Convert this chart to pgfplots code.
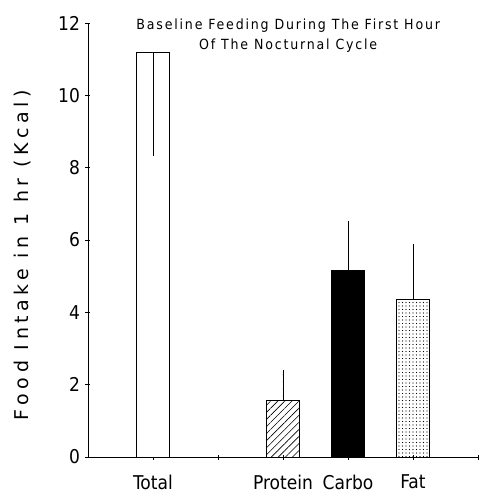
\documentclass[border=0pt]{standalone}
\usepackage{pgfplots}
\pgfplotsset{compat=1.18}
\usepackage{fontspec}
\setmainfont{DejaVu Sans Condensed}
\newfontfamily\labfont[LetterSpace=24]{DejaVu Sans}
\newfontfamily\titfont[LetterSpace=13]{DejaVu Sans Condensed}
\usetikzlibrary{patterns.meta}
\begin{document}
\begin{tikzpicture}
\begin{axis}[
    scale only axis,
    width=390pt, height=434pt,
    xmin=0, xmax=6,
    ymin=0, ymax=12,
    axis lines=left,
    axis line style={-, line width=0.8pt},
    xtick={1,2,3,4,5,6},
    xticklabels={Total,,Protein,Carbo,Fat,},
    ytick={0,2,4,6,8,10,12},
    tick align=center,
    major tick length=5pt,
    tick style={black, line width=0.7pt},
    ticklabel style={font=\fontsize{19}{19}\selectfont},
    xticklabel style={yshift=-12pt},
    yticklabel style={xshift=-2pt},
    ylabel={\labfont\fontsize{19}{19}\selectfont Food Intake in 1 hr (Kcal)},
    ylabel style={at={(axis description cs:-0.169,0.465)}, anchor=center},
    /pgf/number format/assume math mode=true,
    bar width=0.5,
    clip=false,
]
% Total (error bar drawn downward inside the bar)
\addplot[ybar, bar shift=0pt, draw=black, line width=0.8pt, fill=white,
    error bars/.cd, y dir=minus, y explicit, error mark=none,
    error bar style={line width=0.8pt}]
    coordinates {(1,11.19) -= (0,2.87)};
% Protein
\addplot[ybar, bar shift=0pt, draw=black, line width=0.8pt,
    pattern={Lines[angle=45,distance=5pt,line width=0.6pt]},
    error bars/.cd, y dir=plus, y explicit, error mark=none,
    error bar style={line width=0.8pt}]
    coordinates {(3,1.56) += (0,0.85)};
% Carbo
\addplot[ybar, bar shift=0pt, draw=black, line width=0.8pt, fill=black,
    error bars/.cd, y dir=plus, y explicit, error mark=none,
    error bar style={line width=0.8pt}]
    coordinates {(4,5.17) += (0,1.35)};
% Fat
\addplot[ybar, bar shift=0pt, draw=black, line width=0.8pt,
    pattern={Dots[distance=3.5pt,radius=0.6pt]},
    error bars/.cd, y dir=plus, y explicit, error mark=none,
    error bar style={line width=0.8pt}]
    coordinates {(5,4.36) += (0,1.52)};
\node[align=center, font=\titfont\fontsize{14}{20}\selectfont, anchor=north]
    at (axis cs:3.08,12.2) {Baseline Feeding During The First Hour\\Of The Nocturnal Cycle};
\end{axis}
\pgfresetboundingbox
\path[use as bounding box] ([shift={(-88pt,-38pt)}]current axis.south west)
    rectangle ([shift={(1pt,23pt)}]current axis.north east);
\end{tikzpicture}
\end{document}
